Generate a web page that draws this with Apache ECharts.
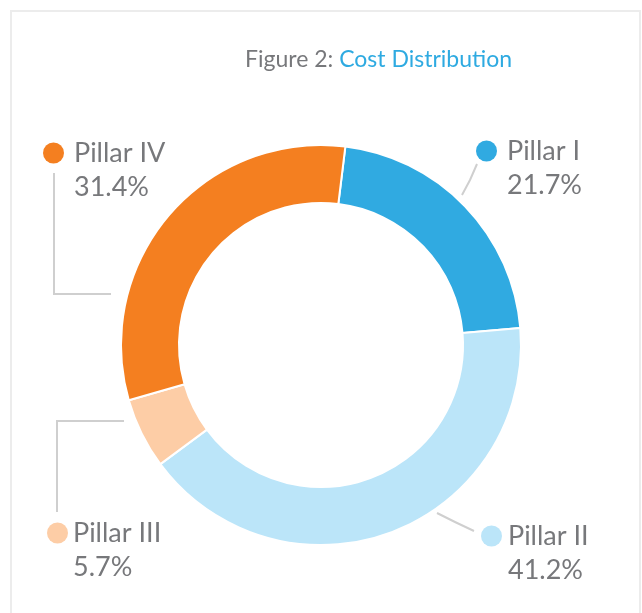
<!DOCTYPE html>
<html>
<head>
<meta charset="utf-8">
<script src="https://cdn.jsdelivr.net/npm/echarts@6/dist/echarts.min.js"></script>
<style>
  html, body { margin: 0; padding: 0; background: #fff; }
  #wrap { position: relative; width: 642px; height: 613px; overflow: hidden; }
  #frame { position: absolute; left: 10px; top: 10px; width: 631px; height: 640px; border: 2px solid #ececec; box-sizing: border-box; }
  #chart { position: absolute; left: 0; top: 0; width: 642px; height: 613px; }
</style>
</head>
<body>
<div id="wrap">
  <div id="frame"></div>
  <div id="chart"></div>
</div>
<script>
const names = ['Pillar I', 'Pillar II', 'Pillar III', 'Pillar IV']
const shares = [21.7, 41.2, 5.7, 31.4]
const colors = ['#30aae1', '#bbe5f9', '#fdcda6', '#f47f20']

// where each label goes, and its guide line
const labelPlace = [
    {x: 476, y: 134, gap: 10, line: [[462, 195], [470, 180], [477, 164]]},
    {x: 481, y: 519, gap: 6, line: [[437, 513], [455, 522], [474, 531]]},
    {x: 47, y: 516, gap: 5, line: [[124, 421], [57, 421], [57, 512]]},
    {x: 43, y: 136, gap: 10, line: [[111, 294], [54, 294], [54, 173]]}
]

const textGray = '#77787b'

const myChart = echarts.init(document.getElementById('chart'))

const pieData = names.map((name, i) => {
    const gap = labelPlace[i].gap
    return {
        name: name,
        value: shares[i],
        itemStyle: {color: colors[i]},
        label: {
            rich: {
                dot: {width: 21, height: 21, borderRadius: 10.5, backgroundColor: colors[i]},
                sp: {width: gap},
                pad: {width: 21 + gap},
                name: {fontSize: 27, color: textGray, fontFamily: 'Lato', lineHeight: 34},
                val: {fontSize: 27, color: textGray, fontFamily: 'Lato', lineHeight: 34}
            }
        }
    }
})

const option = {
    animation: false,
    title: {
        text: '{a|Figure 2: }{b|Cost Distribution}',
        left: 240,
        top: 43,
        textStyle: {
            rich: {
                a: {fontSize: 23, fontWeight: 'normal', color: textGray, fontFamily: 'Lato'},
                b: {fontSize: 23, fontWeight: 'normal', color: '#2eaae1', fontFamily: 'Lato'}
            }
        }
    },
    series: [
        {
            type: 'pie',
            center: [321, 345],
            radius: [142, 200],
            startAngle: 83,
            clockwise: true,
            avoidLabelOverlap: false,
            itemStyle: {borderColor: '#fff', borderWidth: 2},
            label: {
                show: true,
                position: 'outside',
                formatter: p => '{dot|}{sp|}{name|' + p.name + '}\n{pad|}{val|' + p.value.toFixed(1) + '%}'
            },
            labelLine: {
                show: true,
                lineStyle: {color: '#cfcfcf', width: 2}
            },
            labelLayout: params => {
                const place = labelPlace[params.dataIndex]
                return {
                    x: place.x,
                    y: place.y,
                    align: 'left',
                    verticalAlign: 'top',
                    labelLinePoints: place.line
                }
            },
            data: pieData
        }
    ]
}

option && myChart.setOption(option)
</script>
</body>
</html>
